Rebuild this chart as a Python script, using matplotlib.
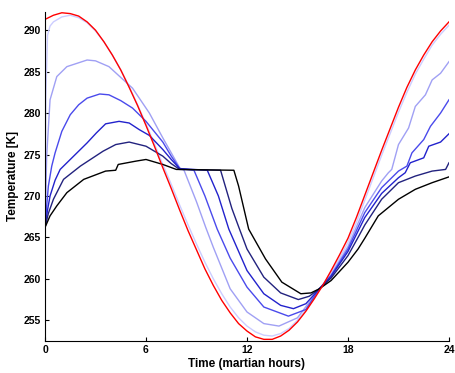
import matplotlib
matplotlib.use('Agg')
import matplotlib.pyplot as plt

# ── surface temperature (red) ────────────────────────────────────────────────
red_t = [0, 0.5, 1, 1.5, 2, 2.5, 3, 3.5, 4, 4.5, 5, 5.5, 6, 6.5, 7, 7.5, 8,
         8.5, 9, 9.5, 10, 10.5, 11, 11.5, 12, 12.5, 13, 13.5, 14, 14.5, 15,
         15.5, 16, 16.5, 17, 17.5, 18, 18.5, 19, 19.5, 20, 20.5, 21, 21.5,
         22, 22.5, 23, 23.5, 24]
red_T = [291.3, 291.8, 292.1, 292.0, 291.7, 291.0, 290.0, 288.6, 287.0, 285.2,
         283.1, 280.9, 278.5, 276.0, 273.4, 270.9, 268.3, 265.8, 263.5, 261.2,
         259.2, 257.4, 255.9, 254.6, 253.7, 253.0, 252.7, 252.7, 253.1, 253.8,
         254.8, 256.1, 257.6, 259.2, 261.0, 262.9, 264.9, 267.4, 270.1, 272.8,
         275.5, 278.1, 280.7, 283.1, 285.2, 287.0, 288.6, 289.9, 291.0]

# ── air temperature at increasing heights (light -> dark) ────────────────────
lav_t = [0, 0.05, 0.15, 0.3, 0.5, 1, 1.5, 2, 2.5, 3, 3.5, 4, 4.5, 5, 5.5, 6,
         6.5, 7, 7.5, 8, 8.5, 9, 9.5, 10, 10.5, 11, 11.5, 12, 12.5, 13, 13.5,
         14, 14.5, 15, 15.5, 16, 16.5, 17, 17.5, 18, 18.5, 19, 19.5, 20, 20.5,
         21, 21.5, 22, 22.5, 23, 23.5, 24]
lav_T = [266.2, 282.0, 289.4, 290.5, 291.0, 291.6, 291.8, 291.5, 290.9, 289.9,
         288.6, 287.0, 285.2, 283.2, 281.0, 278.7, 276.3, 273.8, 271.4, 268.9,
         266.5, 264.2, 262.0, 260.0, 258.2, 256.6, 255.3, 254.3, 253.6, 253.2,
         253.1, 253.4, 254.0, 255.0, 256.3, 257.8, 259.2, 260.8, 262.5, 264.4,
         266.8, 269.5, 272.2, 274.9, 277.5, 280.1, 282.5, 284.7, 286.5, 288.2,
         289.5, 290.6]

lb_t = [0, 0.1, 0.3, 0.7, 1.3, 2.5, 3, 3.8, 5.2, 6.2, 7, 7.5, 8, 8.26, 9,
        9.55, 10, 11, 12, 13, 13.9, 15, 16.3, 17, 18, 19, 20, 20.4, 20.6, 21,
        21.6, 22, 22.6, 23, 23.5, 24]
lb_T = [266.2, 274.8, 281.6, 284.4, 285.6, 286.4, 286.3, 285.6, 283.0, 280.0,
        277.0, 275.2, 273.4, 273.1, 269.3, 266.2, 263.8, 258.8, 256.0, 254.6,
        254.3, 255.3, 258.8, 260.5, 263.9, 268.6, 271.8, 272.8, 273.2, 276.2,
        278.2, 280.8, 282.2, 284.0, 284.8, 286.2]

b1_t = [0, 0.1, 0.2, 0.4, 0.6, 1.0, 1.5, 2.0, 2.5, 3.25, 3.8, 4.5, 5.2, 6, 7,
        7.5, 8, 8.85, 9.5, 10.23, 11, 12, 13, 14.46, 15.5, 16.3, 17, 18, 19,
        20, 21, 21.5, 21.8, 22.5, 22.9, 23.5, 24]
b1_T = [266.2, 268.8, 271.2, 273.6, 275.2, 277.8, 279.8, 281.0, 281.8, 282.3,
        282.2, 281.5, 280.6, 279.0, 276.5, 274.8, 273.3, 273.1, 270.0, 266.0,
        262.5, 259.0, 256.6, 255.5, 256.3, 258.8, 260.4, 263.6, 268.0, 271.0,
        273.0, 273.6, 275.2, 276.8, 278.4, 280.0, 281.6]

b2_t = [0, 0.15, 0.3, 0.6, 0.9, 1.7, 2.5, 3.05, 3.6, 4.4, 5.0, 5.6, 6.2, 7,
        7.5, 8, 9.64, 10.3, 10.92, 12, 13, 14, 14.76, 15.5, 16.3, 17, 18, 19,
        20, 21, 21.4, 21.7, 22.5, 22.8, 23.5, 24]
b2_T = [266.2, 268.3, 270.0, 271.9, 273.2, 274.8, 276.4, 277.6, 278.7, 279.0,
        278.8, 278.0, 277.3, 275.6, 274.4, 273.3, 273.1, 270.0, 266.0, 261.0,
        258.2, 256.8, 256.4, 257.0, 258.8, 260.3, 263.3, 267.4, 270.3, 272.2,
        272.8, 274.0, 274.6, 276.0, 276.5, 277.5]

b3_t = [0, 0.2, 0.5, 1.1, 2.1, 2.85, 3.45, 4.2, 5.0, 5.6, 6.0, 7, 7.5, 8,
        10.43, 11.1, 11.5, 12, 13, 14, 15.05, 15.7, 16.3, 17, 18, 18.6, 19,
        20, 21, 22, 23, 23.8, 24]
b3_T = [266.2, 267.9, 269.6, 272.0, 273.6, 274.6, 275.4, 276.2, 276.5, 276.2,
        276.0, 274.8, 273.9, 273.2, 273.1, 268.5, 266.3, 263.6, 260.2, 258.3,
        257.5, 257.9, 258.8, 260.1, 262.8, 265.0, 266.5, 269.6, 271.6, 272.4,
        273.0, 273.2, 274.0]

bk_t = [0, 0.3, 0.7, 1.3, 2.3, 3.6, 4.2, 4.35, 5.4, 6.0, 7, 7.8, 11.22, 11.5,
        12.1, 13.1, 14.07, 15.2, 15.8, 16.3, 17, 18, 18.6, 19, 19.8, 21, 22,
        23, 24]
bk_T = [266.2, 267.6, 268.8, 270.4, 272.0, 273.0, 273.1, 273.8, 274.2, 274.4,
        273.8, 273.2, 273.1, 271.2, 266.0, 262.4, 259.6, 258.2, 258.3, 258.8,
        259.8, 262.0, 263.6, 264.9, 267.6, 269.6, 270.8, 271.6, 272.3]

series = [
    (lav_t, lav_T, '#cccdff'),
    (lb_t, lb_T, '#a0a0f4'),
    (b1_t, b1_T, '#4a4aec'),
    (b2_t, b2_T, '#2222cc'),
    (b3_t, b3_T, '#22227e'),
    (bk_t, bk_T, '#000000'),
]

plt.rcParams['font.family'] = ['Liberation Sans', 'DejaVu Sans']

fig = plt.figure(figsize=(4.56, 3.73), dpi=100)
ax = fig.add_axes([0.0987, 0.0858, 0.8859, 0.8822])

for t, T, c in series:
    ax.plot(t, T, color=c, lw=1.0)
ax.plot(red_t, red_T, color='#ff0000', lw=1.0)

ax.set_xlim(0, 24)
ax.set_ylim(252.5, 292.2)
ax.set_xticks([0, 6, 12, 18, 24])
ax.set_yticks([255, 260, 265, 270, 275, 280, 285, 290])
ax.tick_params(direction='in', length=3, width=0.8, labelsize=7.5, pad=3)
for lab in ax.get_xticklabels() + ax.get_yticklabels():
    lab.set_fontweight('bold')
ax.spines['top'].set_visible(False)
ax.spines['right'].set_visible(False)
ax.set_xlabel('Time (martian hours)', fontsize=8.5, fontweight='bold', labelpad=2)
ax.set_ylabel('Temperature [K]', fontsize=8.5, fontweight='bold', labelpad=3)

fig.savefig('out.png', dpi=100)
